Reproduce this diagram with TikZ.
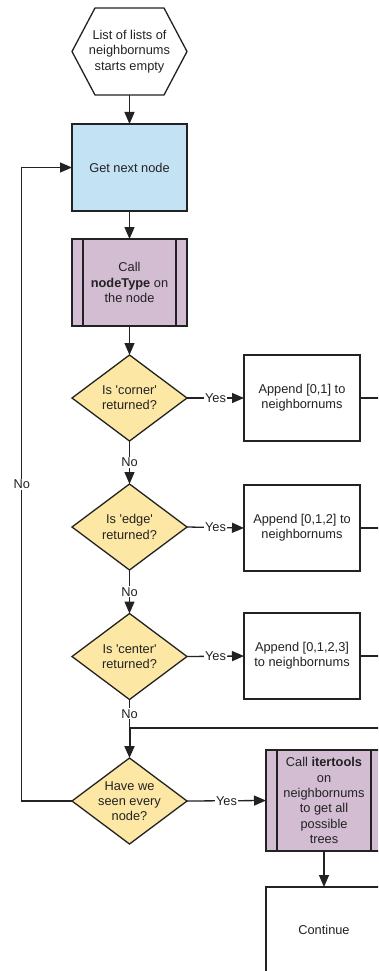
\documentclass[tikz,border=0pt]{standalone}
\usepackage{fontspec}
\setmainfont{Liberation Sans}[Ligatures=TeXOff]
\usetikzlibrary{arrows.meta,shapes.geometric,backgrounds}
\definecolor{blu}{HTML}{C3E3F5}
\definecolor{pur}{HTML}{D3BDD3}
\definecolor{yel}{HTML}{FDE7A4}
\definecolor{ink}{HTML}{222222}
\begin{document}
\begin{tikzpicture}[x=1pt,y=-1pt,
  every node/.style={font=\fontsize{12.8}{15.3}\selectfont, align=center, text=ink},
  ln/.style={line width=1.3pt, draw=ink},
  arr/.style={ln, -{Triangle[length=12pt,width=10pt]}},
  boxst/.style={draw=ink, line width=1.3pt, minimum width=115pt, minimum height=87pt, inner sep=2pt, outer sep=0pt},
  dec/.style={diamond, draw=ink, line width=1.3pt, fill=yel, minimum width=115pt, minimum height=86pt, inner sep=0pt, outer sep=0pt},
  lab/.style={fill=white, inner sep=1pt},
  proc/.style={path picture={\draw[line width=1.3pt, draw=ink]
     ([xshift=11pt]path picture bounding box.north west) -- ([xshift=11pt]path picture bounding box.south west)
     ([xshift=-11pt]path picture bounding box.north east) -- ([xshift=-11pt]path picture bounding box.south east);}}
]
\useasboundingbox (0,0) rectangle (378,971);
\clip (0,0) rectangle (378,971);

% nodes
\node[boxst, draw=none] (hex) at (129.5,51.5) {List of lists of\\neighbornums\\starts empty};
\begin{scope}[on background layer]
\fill[white] (0,0) rectangle (378,971);
\draw[ln, fill=white] (hex.west) -- ([xshift=23pt]hex.north west) -- ([xshift=-23pt]hex.north east)
  -- (hex.east) -- ([xshift=-23pt]hex.south east) -- ([xshift=23pt]hex.south west) -- cycle;
\end{scope}
\node[boxst, fill=blu] (gnn) at (129.5,167.5) {Get next node};
\node[boxst, fill=pur, proc] (nt) at (129.5,282.5) {Call\\\textbf{nodeType} on\\the node};

\node[dec, label={center:Is 'corner'\\returned?}] (d1) at (129.5,398) {};
\node[dec, label={center:Is 'edge'\\returned?}] (d2) at (129.5,527) {};
\node[dec, label={center:Is 'center'\\returned?}] (d3) at (129.5,656.5) {};
\node[dec, label={center:Have we\\seen every\\node?}] (d4) at (129.5,801) {};

\node[boxst, minimum width=116pt, minimum height=86pt] (a1) at (302,398) {Append [0,1] to\\neighbornums};
\node[boxst, minimum width=116pt, minimum height=86pt] (a2) at (302,528) {Append [0,1,2] to\\neighbornums};
\node[boxst, minimum width=116pt, minimum height=86pt] (a3) at (302,656) {Append [0,1,2,3]\\to neighbornums};

\node[boxst, fill=pur, proc, minimum width=116pt, minimum height=101pt] (it) at (324,800.5)
  {Call \textbf{itertools}\\on\\neighbornums\\to get all\\possible\\trees};
\node[boxst, minimum width=116pt, minimum height=85pt] (cont) at (324,929.5) {Continue};

\coordinate (j) at (129.5,728);
\coordinate (r) at (396,728);
\coordinate (lc) at (21.7,801);

% connectors
\draw[arr] (hex.south) -- (gnn.north);
\draw[arr] (gnn.south) -- (nt.north);
\draw[arr] (nt.south) -- (d1.north);
\draw[arr] (d1.east) -- node[lab]{Yes} (a1.west);
\draw[arr] (d2.east) -- node[lab]{Yes} (a2.west);
\draw[arr] (d3.east) -- node[lab]{Yes} (a3.west);
\draw[arr] (d1.south) -- node[lab]{No} (d2.north);
\draw[arr] (d2.south) -- node[lab]{No} (d3.north);
\draw[ln] (d3.south) -- node[lab]{No} (j);
\draw[ln] (a1.east) -| (r);
\draw[ln] (a2.east) -| (r);
\draw[ln] (a3.east) -| (r);
\draw[ln, line width=2pt] (r) -- (j);
\draw[arr, line width=2pt] (j) -- (d4.north);
\draw[arr] (d4.west) -- (lc) |- node[pos=0.25, lab]{No} (gnn.west);
\draw[arr] (d4.east) -- node[lab]{Yes} (it.west);
\draw[arr] (it.south) -- (cont.north);
\end{tikzpicture}
\end{document}
